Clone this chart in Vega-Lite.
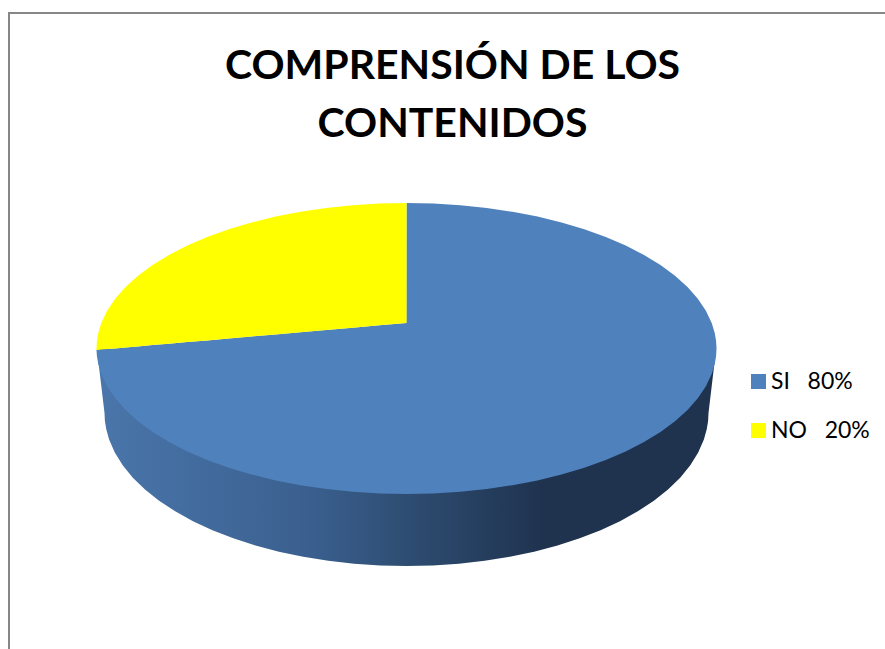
{"$schema":"https://vega.github.io/schema/vega-lite/v6.json","width":885,"height":649,"autosize":"none","padding":0,"background":"white","config":{"view":{"stroke":null}},
"title":{"text":["COMPRENSIÓN DE LOS","CONTENIDOS"],"font":"Lato","fontWeight":"bold","fontSize":41,"lineHeight":58,"color":"#000000","anchor":"middle","frame":"group","offset":-146,"dx":10},
"datasets":{
"borderTop":[{"a":8,"b":885,"pos":13}],"borderLeft":[{"a":12,"b":649,"pos":9}],
"wall":[{"x":97,"top":349,"bottom":350},{"x":104.5,"top":349,"bottom":413},{"x":104.9,"top":349,"bottom":421},{"x":106.2,"top":349,"bottom":429},{"x":109.1,"top":349,"bottom":439.6},{"x":114.8,"top":349,"bottom":452.6},{"x":122.7,"top":349,"bottom":465.3},{"x":132.8,"top":349,"bottom":477.7},{"x":145,"top":349,"bottom":489.5},{"x":159.1,"top":349,"bottom":500.8},{"x":175.2,"top":349,"bottom":511.3},{"x":193,"top":349,"bottom":521.2},{"x":212.4,"top":349,"bottom":530.2},{"x":233.3,"top":349,"bottom":538.3},{"x":255.5,"top":349,"bottom":545.5},{"x":278.9,"top":349,"bottom":551.7},{"x":303.2,"top":349,"bottom":556.8},{"x":328.3,"top":349,"bottom":560.8},{"x":354.1,"top":349,"bottom":563.7},{"x":380.2,"top":349,"bottom":565.4},{"x":406.5,"top":349,"bottom":566},{"x":432.8,"top":349,"bottom":565.4},{"x":458.9,"top":349,"bottom":563.7},{"x":484.7,"top":349,"bottom":560.8},{"x":509.8,"top":349,"bottom":556.8},{"x":534.1,"top":349,"bottom":551.7},{"x":557.5,"top":349,"bottom":545.5},{"x":579.7,"top":349,"bottom":538.3},{"x":600.6,"top":349,"bottom":530.2},{"x":620,"top":349,"bottom":521.2},{"x":637.8,"top":349,"bottom":511.3},{"x":653.9,"top":349,"bottom":500.8},{"x":668,"top":349,"bottom":489.5},{"x":680.2,"top":349,"bottom":477.7},{"x":690.3,"top":349,"bottom":465.3},{"x":698.2,"top":349,"bottom":452.6},{"x":703.9,"top":349,"bottom":439.6},{"x":706.8,"top":349,"bottom":429},{"x":708.1,"top":349,"bottom":421},{"x":708.5,"top":349,"bottom":413},{"x":716,"top":349,"bottom":350}],
"slices":[
{"serie":"SI\u00a0\u00a0\u00a080%","x":96.5,"top":350,"bottom":350},{"serie":"SI\u00a0\u00a0\u00a080%","x":96.9,"top":350,"bottom":356.1},{"serie":"SI\u00a0\u00a0\u00a080%","x":98.2,"top":349.9,"bottom":363.7},{"serie":"SI\u00a0\u00a0\u00a080%","x":101.2,"top":349.6,"bottom":373.8},{"serie":"SI\u00a0\u00a0\u00a080%","x":107.1,"top":349.1,"bottom":386.2},{"serie":"SI\u00a0\u00a0\u00a080%","x":115.2,"top":348.4,"bottom":398.3},{"serie":"SI\u00a0\u00a0\u00a080%","x":125.5,"top":347.5,"bottom":410},{"serie":"SI\u00a0\u00a0\u00a080%","x":138,"top":346.4,"bottom":421.3},{"serie":"SI\u00a0\u00a0\u00a080%","x":152.5,"top":345.1,"bottom":432},{"serie":"SI\u00a0\u00a0\u00a080%","x":169,"top":343.7,"bottom":442},{"serie":"SI\u00a0\u00a0\u00a080%","x":187.3,"top":342.1,"bottom":451.4},{"serie":"SI\u00a0\u00a0\u00a080%","x":207.2,"top":340.4,"bottom":460},{"serie":"SI\u00a0\u00a0\u00a080%","x":228.7,"top":338.5,"bottom":467.7},{"serie":"SI\u00a0\u00a0\u00a080%","x":251.5,"top":336.5,"bottom":474.5},{"serie":"SI\u00a0\u00a0\u00a080%","x":275.5,"top":334.4,"bottom":480.4},{"serie":"SI\u00a0\u00a0\u00a080%","x":300.5,"top":332.2,"bottom":485.2},{"serie":"SI\u00a0\u00a0\u00a080%","x":326.3,"top":330,"bottom":489},{"serie":"SI\u00a0\u00a0\u00a080%","x":352.7,"top":327.7,"bottom":491.8},{"serie":"SI\u00a0\u00a0\u00a080%","x":379.5,"top":325.3,"bottom":493.4},{"serie":"SI\u00a0\u00a0\u00a080%","x":406.4,"top":323,"bottom":494},
{"serie":"SI\u00a0\u00a0\u00a080%","x":406.6,"top":203,"bottom":494},{"serie":"SI\u00a0\u00a0\u00a080%","x":433.5,"top":203.6,"bottom":493.4},{"serie":"SI\u00a0\u00a0\u00a080%","x":460.3,"top":205.2,"bottom":491.8},{"serie":"SI\u00a0\u00a0\u00a080%","x":486.7,"top":208,"bottom":489},{"serie":"SI\u00a0\u00a0\u00a080%","x":512.5,"top":211.8,"bottom":485.2},{"serie":"SI\u00a0\u00a0\u00a080%","x":537.5,"top":216.6,"bottom":480.4},{"serie":"SI\u00a0\u00a0\u00a080%","x":561.5,"top":222.5,"bottom":474.5},{"serie":"SI\u00a0\u00a0\u00a080%","x":584.3,"top":229.3,"bottom":467.7},{"serie":"SI\u00a0\u00a0\u00a080%","x":605.8,"top":237,"bottom":460},{"serie":"SI\u00a0\u00a0\u00a080%","x":625.7,"top":245.6,"bottom":451.4},{"serie":"SI\u00a0\u00a0\u00a080%","x":644,"top":255,"bottom":442},{"serie":"SI\u00a0\u00a0\u00a080%","x":660.5,"top":265,"bottom":432},{"serie":"SI\u00a0\u00a0\u00a080%","x":675,"top":275.7,"bottom":421.3},{"serie":"SI\u00a0\u00a0\u00a080%","x":687.5,"top":287,"bottom":410},{"serie":"SI\u00a0\u00a0\u00a080%","x":697.8,"top":298.7,"bottom":398.3},{"serie":"SI\u00a0\u00a0\u00a080%","x":705.9,"top":310.8,"bottom":386.2},{"serie":"SI\u00a0\u00a0\u00a080%","x":711.8,"top":323.2,"bottom":373.8},{"serie":"SI\u00a0\u00a0\u00a080%","x":714.8,"top":333.3,"bottom":363.7},{"serie":"SI\u00a0\u00a0\u00a080%","x":716.1,"top":340.9,"bottom":356.1},{"serie":"SI\u00a0\u00a0\u00a080%","x":716.5,"top":348.5,"bottom":348.5},
{"serie":"NO\u00a0\u00a0\u00a020%","x":96.5,"top":348.5,"bottom":350},{"serie":"NO\u00a0\u00a0\u00a020%","x":96.9,"top":340.9,"bottom":350},{"serie":"NO\u00a0\u00a0\u00a020%","x":98.2,"top":333.3,"bottom":349.9},{"serie":"NO\u00a0\u00a0\u00a020%","x":101.2,"top":323.2,"bottom":349.6},{"serie":"NO\u00a0\u00a0\u00a020%","x":107.1,"top":310.8,"bottom":349.1},{"serie":"NO\u00a0\u00a0\u00a020%","x":115.2,"top":298.7,"bottom":348.4},{"serie":"NO\u00a0\u00a0\u00a020%","x":125.5,"top":287,"bottom":347.5},{"serie":"NO\u00a0\u00a0\u00a020%","x":138,"top":275.7,"bottom":346.4},{"serie":"NO\u00a0\u00a0\u00a020%","x":152.5,"top":265,"bottom":345.1},{"serie":"NO\u00a0\u00a0\u00a020%","x":169,"top":255,"bottom":343.7},{"serie":"NO\u00a0\u00a0\u00a020%","x":187.3,"top":245.6,"bottom":342.1},{"serie":"NO\u00a0\u00a0\u00a020%","x":207.2,"top":237,"bottom":340.4},{"serie":"NO\u00a0\u00a0\u00a020%","x":228.7,"top":229.3,"bottom":338.5},{"serie":"NO\u00a0\u00a0\u00a020%","x":251.5,"top":222.5,"bottom":336.5},{"serie":"NO\u00a0\u00a0\u00a020%","x":275.5,"top":216.6,"bottom":334.4},{"serie":"NO\u00a0\u00a0\u00a020%","x":300.5,"top":211.8,"bottom":332.2},{"serie":"NO\u00a0\u00a0\u00a020%","x":326.3,"top":208,"bottom":330},{"serie":"NO\u00a0\u00a0\u00a020%","x":352.7,"top":205.2,"bottom":327.7},{"serie":"NO\u00a0\u00a0\u00a020%","x":379.5,"top":203.6,"bottom":325.3},{"serie":"NO\u00a0\u00a0\u00a020%","x":406.5,"top":203,"bottom":323}
]},
"layer":[
{"data":{"name":"borderTop"},"mark":{"type":"rule","color":"#878787","strokeWidth":2},"encoding":{"x":{"field":"a","type":"quantitative","scale":{"domain":[0,885],"nice":false,"zero":false},"axis":null},"x2":{"field":"b"},"y":{"field":"pos","type":"quantitative","scale":{"domain":[649,0],"nice":false,"zero":false},"axis":null}}},
{"data":{"name":"borderLeft"},"mark":{"type":"rule","color":"#878787","strokeWidth":2},"encoding":{"x":{"field":"pos","type":"quantitative","scale":{"domain":[0,885],"nice":false,"zero":false},"axis":null},"y":{"field":"a","type":"quantitative","scale":{"domain":[649,0],"nice":false,"zero":false},"axis":null},"y2":{"field":"b"}}},
{"data":{"name":"wall"},"mark":{"type":"area","fill":{"gradient":"linear","x1":0,"y1":0,"x2":1,"y2":0,"stops":[{"offset":0,"color":"#4a76ab"},{"offset":0.35,"color":"#3a5f8e"},{"offset":0.5,"color":"#2e4d72"},{"offset":0.72,"color":"#1f334f"},{"offset":1,"color":"#1f334f"}]}},"encoding":{"x":{"field":"x","type":"quantitative","scale":{"domain":[0,885],"nice":false,"zero":false},"axis":null},"y":{"field":"top","type":"quantitative","scale":{"domain":[649,0],"nice":false,"zero":false},"axis":null},"y2":{"field":"bottom"}}},
{"data":{"name":"slices"},"mark":{"type":"area"},"encoding":{"x":{"field":"x","type":"quantitative","scale":{"domain":[0,885],"nice":false,"zero":false},"axis":null},"y":{"field":"top","type":"quantitative","scale":{"domain":[649,0],"nice":false,"zero":false},"axis":null},"y2":{"field":"bottom"},"color":{"field":"serie","type":"nominal","scale":{"domain":["SI\u00a0\u00a0\u00a080%","NO\u00a0\u00a0\u00a020%"],"range":["#4f81bd","#ffff00"]},"legend":{"title":null,"orient":"none","legendX":747,"legendY":370,"symbolType":"square","symbolSize":225,"symbolStrokeWidth":0,"symbolOpacity":1,"labelFont":"Lato","labelFontSize":23,"labelColor":"#000000","labelOffset":1,"rowPadding":25,"labelLimit":200}}}}
]}
